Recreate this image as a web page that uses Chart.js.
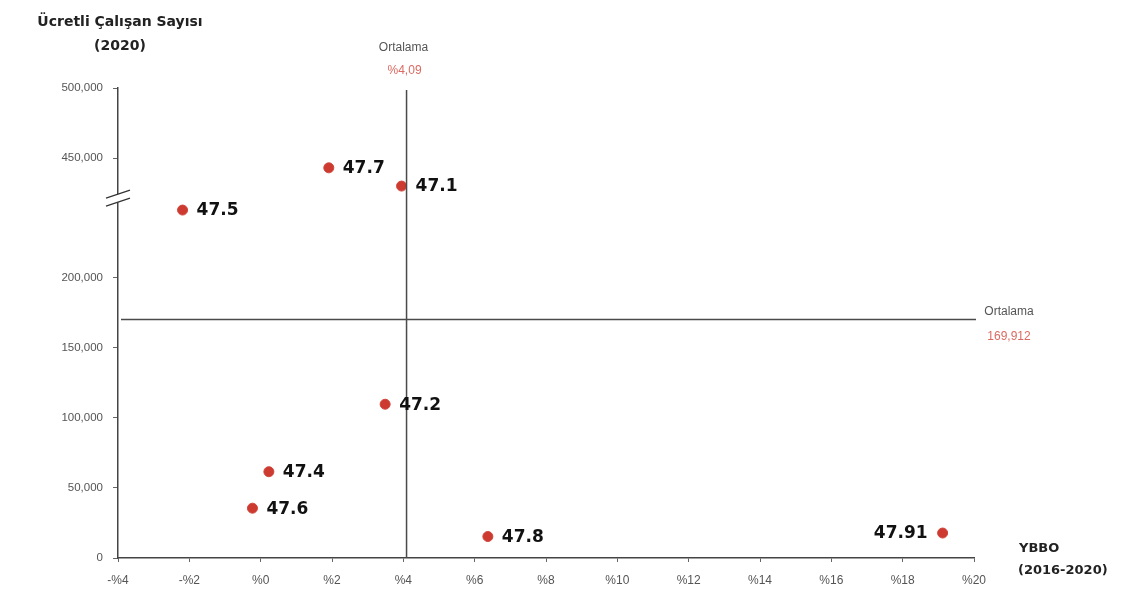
<!DOCTYPE html>
<html>
<head>
<meta charset="utf-8">
<script src="https://cdn.jsdelivr.net/npm/chart.js@4.4.1/dist/chart.umd.min.js"></script>
<style>
html,body{margin:0;padding:0;background:#fff;}
#wrap{width:1123px;height:607px;position:relative;}
</style>
</head>
<body>
<div id="wrap"><canvas id="c" width="1123" height="607"></canvas></div>
<script>
// ---- data ----
const categories = ['47.1','47.2','47.4','47.5','47.6','47.7','47.8','47.91'];
const growth = [3.95, 3.49, 0.23, -2.19, -0.23, 1.91, 6.37, 19.12];          // YBBO %, 2016-2020
const employees = [430100, 109600, 61500, 248000, 35500, 443100, 15300, 17800]; // 2020
const xTicks = [-4,-2,0,2,4,6,8,10,12,14,16,18,20];
const yTicks = [0,50000,100000,150000,200000,450000,500000];
const avgGrowth = 4.09;
const avgEmployees = 169912;
const avgGrowthLabel = '%4,09';
const avgEmployeesLabel = '169,912';
const yTitle = ['Ücretli Çalışan Sayısı','(2020)'];
const xTitle = ['YBBO','(2016-2020)'];
const avgTitle = 'Ortalama';

// broken y axis: values above the break are shifted down
const breakAt = 250000;
const breakShift = 165000;
const toDisplay = v => v > breakAt ? v - breakShift : v;
const fromDisplay = v => v > breakAt ? v + breakShift : v;

const FONT = '"Liberation Sans", Arial, sans-serif';
const BOLD = '"DejaVu Sans", Verdana, sans-serif';
const fmtX = v => (v < 0 ? '-%' + Math.abs(v) : '%' + v);

const overlay = {
  id: 'overlay',
  afterDatasetsDraw(chart) {
    const ctx = chart.ctx, xs = chart.scales.x, ys = chart.scales.y, ca = chart.chartArea;
    ctx.save();
    // average lines
    ctx.strokeStyle = '#4a4a4a';
    ctx.lineWidth = 1.5;
    const ax = xs.getPixelForValue(avgGrowth);
    const ay = ys.getPixelForValue(toDisplay(avgEmployees));
    ctx.beginPath(); ctx.moveTo(ax, ca.top + 2); ctx.lineTo(ax, ca.bottom); ctx.stroke();
    ctx.beginPath(); ctx.moveTo(ca.left + 3, ay); ctx.lineTo(ca.right + 2, ay); ctx.stroke();

    // axis break
    const by = ys.getPixelForValue(breakAt + 5000);
    const lx = ca.left;
    ctx.fillStyle = '#fff';
    ctx.beginPath();
    ctx.moveTo(lx - 12, by + 6); ctx.lineTo(lx + 12, by - 2);
    ctx.lineTo(lx + 12, by - 10); ctx.lineTo(lx - 12, by - 2); ctx.closePath(); ctx.fill();
    ctx.strokeStyle = '#333'; ctx.lineWidth = 1.3;
    ctx.beginPath(); ctx.moveTo(lx - 12, by - 2); ctx.lineTo(lx + 12, by - 10); ctx.stroke();
    ctx.beginPath(); ctx.moveTo(lx - 12, by + 6); ctx.lineTo(lx + 12, by - 2); ctx.stroke();

    // average labels
    ctx.textAlign = 'center'; ctx.textBaseline = 'middle';
    ctx.font = '12px ' + FONT;
    ctx.fillStyle = '#555';
    ctx.fillText(avgTitle, ax - 3, 48);
    ctx.fillStyle = '#dc6a62';
    ctx.fillText(avgGrowthLabel, ax - 2, 71);
    ctx.fillStyle = '#555';
    ctx.fillText(avgTitle, 1009, ay - 8);
    ctx.fillStyle = '#dc6a62';
    ctx.fillText(avgEmployeesLabel, 1009, ay + 17);

    // axis titles
    ctx.fillStyle = '#222';
    ctx.font = 'bold 14px ' + BOLD;
    ctx.textAlign = 'center';
    ctx.fillText(yTitle[0], 120, 22);
    ctx.fillText(yTitle[1], 120, 46);
    ctx.font = 'bold 13px ' + BOLD;
    ctx.textAlign = 'left';
    ctx.fillText(xTitle[0], 1019, 549);
    ctx.fillText(xTitle[1], 1018, 571);

    // point labels
    ctx.font = 'bold 17px ' + BOLD;
    ctx.fillStyle = '#111';
    ctx.textBaseline = 'middle';
    const meta = chart.getDatasetMeta(0);
    meta.data.forEach((pt, i) => {
      const lab = categories[i];
      if (pt.x > ca.right - 60) {
        ctx.textAlign = 'right';
        ctx.fillText(lab, pt.x - 15, pt.y + 1);
      } else {
        ctx.textAlign = 'left';
        ctx.fillText(lab, pt.x + 14, pt.y + 1);
      }
    });
    ctx.restore();
  }
};

new Chart(document.getElementById('c'), {
  type: 'scatter',
  data: {
    datasets: [{
      data: growth.map((g, i) => ({ x: g, y: toDisplay(employees[i]) })),
      pointRadius: 5,
      pointHoverRadius: 5,
      pointBackgroundColor: '#cc3a30',
      pointBorderColor: '#d0453b',
      pointBorderWidth: 1
    }]
  },
  options: {
    responsive: false,
    animation: false,
    devicePixelRatio: 1,
    layout: { padding: { left: 0, right: 149, top: 88, bottom: 14 } },
    plugins: { legend: { display: false }, tooltip: { enabled: false } },
    scales: {
      x: {
        type: 'linear',
        min: -4, max: 20,
        afterBuildTicks: s => { s.ticks = xTicks.map(v => ({ value: v })); },
        afterFit: s => { s.height = 35; },
        border: { display: true, color: '#444', width: 1.5 },
        grid: { display: true, drawOnChartArea: false, drawTicks: true, tickLength: 4, color: '#666' },
        ticks: { color: '#555', font: { family: FONT, size: 12 }, padding: 11, callback: v => fmtX(v), maxRotation: 0, autoSkip: false }
      },
      y: {
        type: 'linear',
        min: 0, max: toDisplay(500000),
        afterBuildTicks: s => { s.ticks = yTicks.map(v => ({ value: toDisplay(v) })); },
        afterFit: s => { s.width = 118; },
        border: { display: true, color: '#444', width: 1.5 },
        grid: { display: true, drawOnChartArea: false, drawTicks: true, tickLength: 5, color: '#666' },
        ticks: { color: '#555', font: { family: FONT, size: 11.5 }, padding: 10,
          callback: v => fromDisplay(v).toLocaleString('en-US'), autoSkip: false }
      }
    }
  },
  plugins: [overlay]
});
</script>
</body>
</html>
